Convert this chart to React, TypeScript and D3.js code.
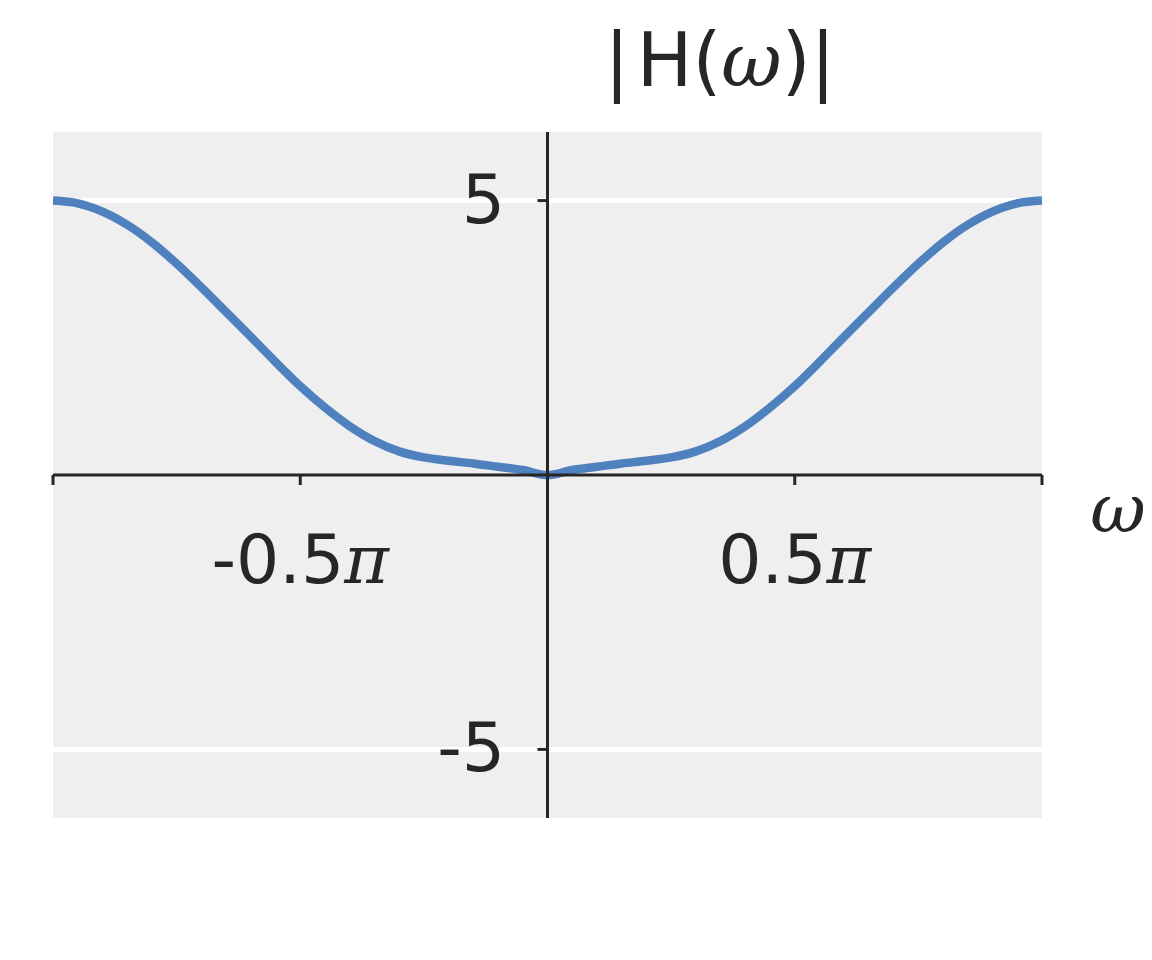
import { useEffect, useRef } from 'react';
import * as d3 from 'd3';

// omega in units of pi
const omegaPi: number[] = [
  -1, -0.95, -0.9, -0.85, -0.8, -0.75, -0.7, -0.65, -0.6, -0.55, -0.5,
  -0.45, -0.4, -0.35, -0.3, -0.25, -0.2, -0.15, -0.1, -0.05, 0,
  0.05, 0.1, 0.15, 0.2, 0.25, 0.3, 0.35, 0.4, 0.45, 0.5,
  0.55, 0.6, 0.65, 0.7, 0.75, 0.8, 0.85, 0.9, 0.95, 1,
];
const magnitude: number[] = [
  5.0, 4.95, 4.8, 4.56, 4.24, 3.85, 3.42, 2.97, 2.52, 2.06, 1.62,
  1.23, 0.89, 0.62, 0.43, 0.32, 0.26, 0.21, 0.15, 0.09, 0.0,
  0.09, 0.15, 0.21, 0.26, 0.32, 0.43, 0.62, 0.89, 1.23, 1.62,
  2.06, 2.52, 2.97, 3.42, 3.85, 4.24, 4.56, 4.8, 4.95, 5.0,
];

const xTicks: number[] = [-1, -0.5, 0.5, 1];
const xTickLabels: string[] = ['', '-0.5', '0.5', ''];
const yTicks: number[] = [-5, 5];
const yTickLabels: string[] = ['-5', '5'];

export default function App() {
  const svgRef = useRef<SVGSVGElement>(null);

  useEffect(() => {
    if (!svgRef.current) return;
    const svg = d3.select(svgRef.current);
    svg.selectAll('*').remove();

    const left = 53, right = 1042, top = 132, bottom = 818;
    const ink = '#262626';
    const font = '"DejaVu Sans", sans-serif';
    const greek = '"DejaVu Serif", serif';
    const fs = 68;

    const x = d3.scaleLinear().domain([-1, 1]).range([left, right]);
    const y = d3.scaleLinear().domain([-6.25, 6.25]).range([bottom, top]);

    // background
    svg.append('rect')
      .attr('x', left).attr('y', top)
      .attr('width', right - left).attr('height', bottom - top)
      .attr('fill', '#efefef');

    // grid lines
    svg.append('g')
      .selectAll('line')
      .data(yTicks)
      .enter().append('line')
      .attr('x1', left).attr('x2', right)
      .attr('y1', d => y(d)).attr('y2', d => y(d))
      .attr('stroke', '#ffffff')
      .attr('stroke-width', 5);

    // curve
    const data = omegaPi.map((w, i) => ({ w, h: magnitude[i] }));
    const line = d3.line<{ w: number; h: number }>()
      .x(d => x(d.w))
      .y(d => y(d.h))
      .curve(d3.curveCatmullRom.alpha(0.5));

    svg.append('path')
      .datum(data)
      .attr('fill', 'none')
      .attr('stroke', '#4f81bf')
      .attr('stroke-width', 8.5)
      .attr('stroke-linejoin', 'round')
      .attr('d', line);

    // spines through the origin
    svg.append('line')
      .attr('x1', left).attr('x2', right)
      .attr('y1', y(0)).attr('y2', y(0))
      .attr('stroke', ink).attr('stroke-width', 3);
    svg.append('line')
      .attr('x1', x(0)).attr('x2', x(0))
      .attr('y1', top).attr('y2', bottom)
      .attr('stroke', ink).attr('stroke-width', 3);

    // x ticks
    svg.append('g')
      .selectAll('line')
      .data(xTicks)
      .enter().append('line')
      .attr('x1', d => x(d)).attr('x2', d => x(d))
      .attr('y1', y(0)).attr('y2', y(0) + 10)
      .attr('stroke', ink).attr('stroke-width', 3);

    const xl = svg.append('g')
      .selectAll('text')
      .data(xTicks.map((t, i) => ({ t, label: xTickLabels[i] })).filter(d => d.label))
      .enter().append('text')
      .attr('x', d => x(d.t))
      .attr('y', 583)
      .attr('text-anchor', 'middle')
      .style('font-family', font)
      .style('font-size', `${fs}px`)
      .style('fill', ink);
    xl.append('tspan').text(d => d.label);
    xl.append('tspan').style('font-family', greek).style('font-style', 'italic').text('π');

    // y ticks
    svg.append('g')
      .selectAll('line')
      .data(yTicks)
      .enter().append('line')
      .attr('x1', x(0) - 10).attr('x2', x(0))
      .attr('y1', d => y(d)).attr('y2', d => y(d))
      .attr('stroke', ink).attr('stroke-width', 3);

    svg.append('g')
      .selectAll('text')
      .data(yTicks.map((t, i) => ({ t, label: yTickLabels[i] })))
      .enter().append('text')
      .attr('x', 505)
      .attr('y', d => y(d.t) + 22)
      .attr('text-anchor', 'end')
      .style('font-family', font)
      .style('font-size', `${fs}px`)
      .style('fill', ink)
      .text(d => d.label);

    // axis labels
    const title = svg.append('text')
      .attr('x', 720)
      .attr('y', 86)
      .attr('text-anchor', 'middle')
      .style('font-family', font)
      .style('font-size', '74px')
      .style('fill', ink);
    title.append('tspan').text('|\u200aH(');
    title.append('tspan').style('font-family', greek).style('font-style', 'italic').text('ω');
    title.append('tspan').text(')|');

    svg.append('text')
      .attr('x', 1118)
      .attr('y', 532)
      .attr('text-anchor', 'middle')
      .style('font-family', greek)
      .style('font-style', 'italic')
      .style('font-size', `${fs}px`)
      .style('fill', ink)
      .text('ω');
  }, []);

  return (
    <div style={{ position: 'absolute', left: 0, top: 0 }}>
      <svg ref={svgRef} width={1152} height={960} style={{ display: 'block', background: '#ffffff' }} />
    </div>
  );
}
